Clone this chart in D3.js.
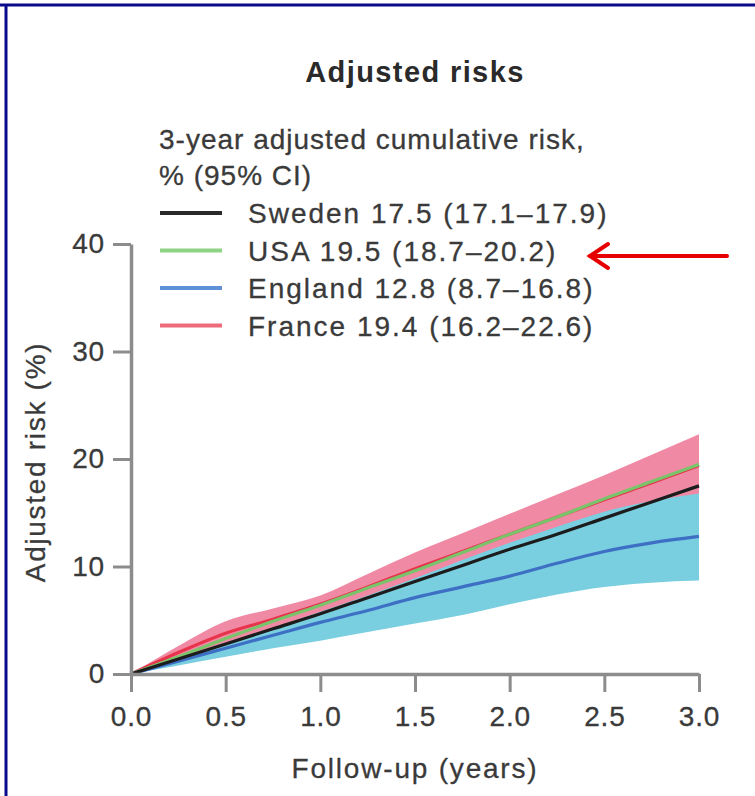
<!DOCTYPE html>
<html>
<head>
<meta charset="utf-8">
<script src="https://cdn.jsdelivr.net/npm/d3@7/dist/d3.min.js"></script>
<style>
  html, body { margin: 0; padding: 0; background: #fff; }
  svg { display: block; }
  text { font-family: "Liberation Sans", Arial, sans-serif; }
</style>
</head>
<body>
<svg id="chart" width="755" height="796"></svg>
<script>
// ---- data ----
const years = [0, 0.25, 0.5, 0.75, 1.0, 1.25, 1.5, 1.75, 2.0, 2.25, 2.5, 2.75, 3.0];
const sweden    = [0, 1.4, 2.8, 4.2, 5.6, 7.1, 8.6, 10.1, 11.6, 13.0, 14.5, 16.0, 17.5];
const usa       = [0, 1.6, 3.3, 4.9, 6.4, 8.0, 9.6, 11.3, 13.0, 14.6, 16.3, 17.9, 19.5];
const england   = [0, 1.2, 2.4, 3.6, 4.8, 5.9, 7.1, 8.1, 9.1, 10.3, 11.4, 12.2, 12.8];
const englandLo = [0, 0.8, 1.6, 2.4, 3.1, 3.9, 4.7, 5.5, 6.5, 7.4, 8.1, 8.5, 8.7];
const englandHi = [0, 1.4, 2.9, 4.3, 5.8, 7.3, 8.9, 10.6, 12.2, 13.7, 15.1, 16.1, 16.8];
const france    = [0, 2.0, 3.8, 5.1, 6.5, 8.1, 9.8, 11.4, 13.0, 14.6, 16.2, 17.8, 19.4];
const franceLo  = [0, 1.4, 2.9, 4.1, 5.4, 6.8, 8.3, 9.8, 11.3, 12.6, 13.9, 15.1, 16.2];
const franceHi  = [0, 2.6, 4.9, 6.1, 7.3, 9.3, 11.3, 13.1, 14.9, 16.7, 18.5, 20.4, 22.3];

const legendTitle = ["3-year adjusted cumulative risk,", "% (95% CI)"];
const legendLabels = [
  "Sweden 17.5 (17.1–17.9)",
  "USA 19.5 (18.7–20.2)",
  "England 12.8 (8.7–16.8)",
  "France 19.4 (16.2–22.6)"
];
const xTicks = [0, 0.5, 1.0, 1.5, 2.0, 2.5, 3.0];
const yTicks = [0, 10, 20, 30, 40];

// ---- layout ----
const svg = d3.select("#chart");
const x = d3.scaleLinear().domain([0, 3]).range([131, 699]);
const y = d3.scaleLinear().domain([0, 40]).range([674, 244]);
const axisColor = "#8c8c8c";
const textColor = "#3a3a3a";

// border (top + left)
svg.append("line").attr("x1", 0).attr("x2", 755).attr("y1", 5).attr("y2", 5)
  .attr("stroke", "#0a0a8c").attr("stroke-width", 3);
svg.append("line").attr("x1", 6).attr("x2", 6).attr("y1", 4).attr("y2", 796)
  .attr("stroke", "#0a0a8c").attr("stroke-width", 3);

// title
svg.append("text").attr("x", 415).attr("y", 82).attr("text-anchor", "middle")
  .attr("font-size", 29).attr("font-weight", "bold").attr("letter-spacing", 1.4)
  .attr("fill", "#2a2a2a").text("Adjusted risks");

// bands
const idx = d3.range(years.length);
const band = (lo, hi) => d3.area()
  .x(i => x(years[i])).y0(i => y(lo[i])).y1(i => y(hi[i]))
  .curve(d3.curveMonotoneX);
svg.append("path").attr("d", band(franceLo, franceHi)(idx)).attr("fill", "#f08aa4");
svg.append("path").attr("d", band(englandLo, englandHi)(idx)).attr("fill", "#79cee0");

// lines
const line = vals => d3.line().x(i => x(years[i])).y(i => y(vals[i]))
  .curve(d3.curveMonotoneX)(idx);
const series = [
  { vals: france, color: "#e8334c" },
  { vals: usa, color: "#79c46a" },
  { vals: england, color: "#3d6fc4" },
  { vals: sweden, color: "#1c1c1c" }
];
series.forEach(s => {
  svg.append("path").attr("d", line(s.vals)).attr("fill", "none")
    .attr("stroke", s.color).attr("stroke-width", 3.2);
});

// axes
const yAxis = svg.append("g").attr("transform", `translate(${x(0)},0)`)
  .call(d3.axisLeft(y).tickValues(yTicks).tickSize(18).tickSizeOuter(0).tickPadding(8));
const xAxis = svg.append("g").attr("transform", `translate(0,${y(0)})`)
  .call(d3.axisBottom(x).tickValues(xTicks).tickFormat(d3.format(".1f"))
    .tickSize(18).tickSizeOuter(0).tickPadding(14));
[yAxis, xAxis].forEach(g => {
  g.select(".domain").attr("stroke", axisColor).attr("stroke-width", 3.5);
  g.selectAll(".tick line").attr("stroke", axisColor).attr("stroke-width", 3);
  g.selectAll(".tick text").attr("font-size", 28).attr("fill", textColor)
    .attr("font-family", "'Liberation Sans', Arial, sans-serif").attr("letter-spacing", 0.8)
    .attr("stroke", textColor).attr("stroke-width", 0.3);
});

// axis titles
svg.append("text").attr("x", 415).attr("y", 778).attr("text-anchor", "middle")
  .attr("font-size", 28).attr("fill", textColor).attr("letter-spacing", 1.8)
  .attr("stroke", textColor).attr("stroke-width", 0.3)
  .text("Follow-up (years)");
svg.append("text").attr("transform", "translate(45,462) rotate(-90)")
  .attr("text-anchor", "middle").attr("font-size", 28).attr("fill", textColor)
  .attr("letter-spacing", 1.7).attr("stroke", textColor).attr("stroke-width", 0.3)
  .text("Adjusted risk (%)");

// legend
const legendColors = ["#2a2a2a", "#8fd486", "#5f8fd6", "#ee6b7a"];
legendTitle.forEach((t, i) => {
  svg.append("text").attr("x", 159).attr("y", 149 + i * 36).attr("font-size", 28)
    .attr("fill", textColor).attr("letter-spacing", 1.0)
    .attr("stroke", textColor).attr("stroke-width", 0.3).text(t);
});
const lg = svg.append("g");
legendLabels.forEach((lab, i) => {
  const cy = 213 + i * 37.5;
  lg.append("line").attr("x1", 160).attr("x2", 222).attr("y1", cy).attr("y2", cy)
    .attr("stroke", legendColors[i]).attr("stroke-width", 4);
  lg.append("text").attr("x", 248).attr("y", cy + 10).attr("font-size", 28)
    .attr("fill", textColor).attr("letter-spacing", 2.0)
    .attr("stroke", textColor).attr("stroke-width", 0.3).text(lab);
});

// red arrow
const arrow = svg.append("g").attr("stroke", "#e60000").attr("stroke-width", 4)
  .attr("stroke-linecap", "round").attr("fill", "none");
arrow.append("line").attr("x1", 727).attr("x2", 590).attr("y1", 256).attr("y2", 256);
arrow.append("path").attr("d", "M608,244 L590,256 L608,268");
</script>
</body>
</html>
